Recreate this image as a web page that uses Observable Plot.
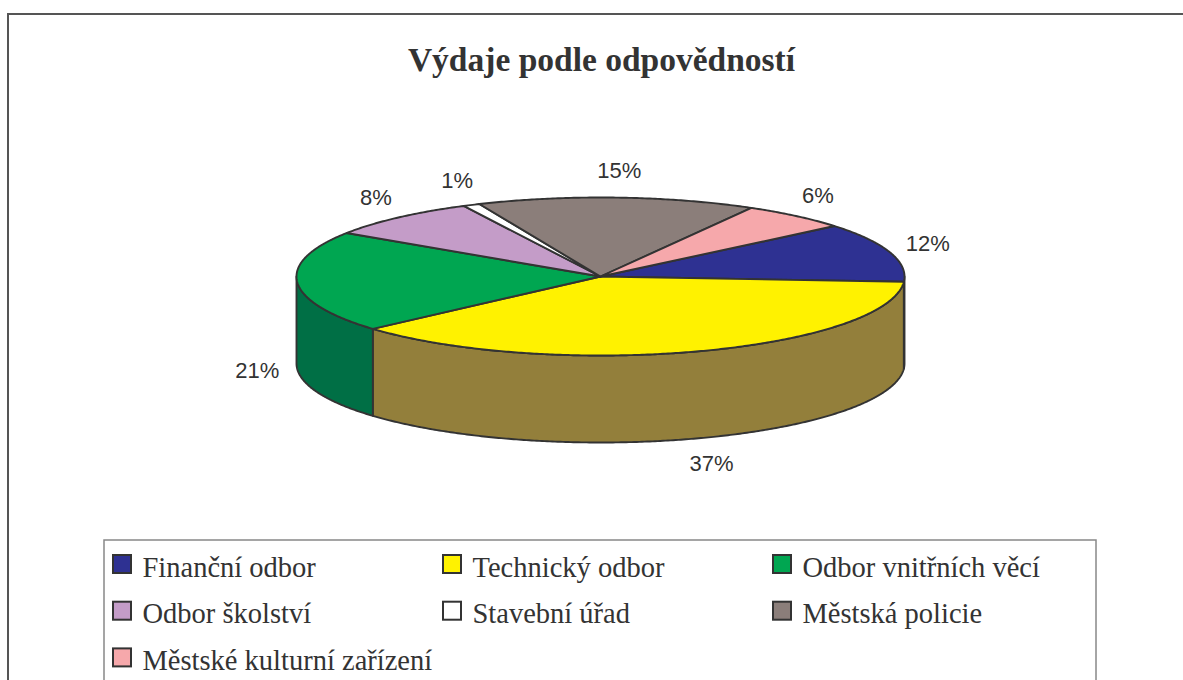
<!DOCTYPE html>
<html>
<head>
<meta charset="utf-8">
<script src="https://cdn.jsdelivr.net/npm/d3@7"></script>
<script src="https://cdn.jsdelivr.net/npm/@observablehq/plot@0.6"></script>
<style>
  html, body { margin: 0; padding: 0; background: #fff; overflow: hidden; }
  #chart svg { display: block; }
</style>
</head>
<body>
<div id="chart"></div>
<script>
// ---- data ----
const title = "Výdaje podle odpovědností";
const categories = ["Finanční odbor", "Technický odbor", "Odbor vnitřních věcí", "Odbor školství", "Stavební úřad", "Městská policie", "Městské kulturní zařízení"];
// shares (percent)
const shares = [12.1, 37.4, 20.8, 8.3, 0.9, 14.8, 5.7];
// labels as printed on the chart
const percentLabels = ["12%", "37%", "21%", "8%", "1%", "15%", "6%"];

// ---- styles ----
const topColors = ["#2E3192", "#FFF200", "#00A651", "#C49CC8", "#FFFFFF", "#8B7E7A", "#F6A8AB"];
const sideColors = ["#1E2060", "#937F3B", "#006F45", "#806485", "#A0A0A0", "#5A504D", "#A06E70"];

// ---- layout ----
const W = 1183, H = 680;
const cx = 600, cy = 276, rx = 304, ry = 79, depth = 87, startAngle = 50.3;
const labelGap = 18, labelFont = 22;

const total = d3.sum(shares);
let acc = startAngle;
const slices = shares.map((v, i) => {
  const a0 = acc, a1 = acc + v / total * 360;
  acc = a1;
  return {i, name: categories[i], label: percentLabels[i], a0, a1, mid: (a0 + a1) / 2};
});

const rad = (a) => a * Math.PI / 180;
const ex = (a, r = rx) => cx + r * Math.sin(rad(a));
const ey = (a, r = ry, off = 0) => cy - r * Math.cos(rad(a)) + off;
function arc(a0, a1, off) {
  const n = Math.max(2, Math.ceil(Math.abs(a1 - a0) / 0.5));
  return d3.range(n + 1).map(k => {
    const a = a0 + (a1 - a0) * k / n;
    return [ex(a), ey(a, ry, off)];
  });
}

// top faces
const topRows = [];
slices.forEach(s => {
  const pts = [[cx, cy], ...arc(s.a0, s.a1, 0)];
  pts.forEach(([x, y]) => topRows.push({id: s.i, x, y, fill: topColors[s.i]}));
});

// side (front) faces: visible angular range 90..270
const sideRows = [];
slices.forEach(s => {
  const s0 = Math.max(s.a0, 90), s1 = Math.min(s.a1, 270);
  if (s1 > s0) {
    const pts = [...arc(s0, s1, 0), ...arc(s1, s0, depth)];
    pts.forEach(([x, y]) => sideRows.push({id: s.i, x, y, fill: sideColors[s.i]}));
  }
});

// percentage labels, placed outside the rim at each slice's mid-angle
const labelRows = slices.map(s => {
  const c = Math.cos(rad(s.mid)), sn = Math.sin(rad(s.mid));
  const hw = (s.label.length - 1) * 0.556 * labelFont / 2 + 0.889 * labelFont / 2;
  const hh = 0.4 * labelFont;
  return {
    text: s.label,
    x: cx + (rx + labelGap + hw) * sn,
    y: cy - (ry + labelGap + hh) * c + (c < 0 ? depth : 0)
  };
});

// legend
const legCols = 3, legX0 = 113, legColW = 330, legY0 = 555, legRowH = 46.7, sw = 18;
const legendRows = categories.map((name, i) => {
  const col = i % legCols, row = Math.floor(i / legCols);
  const x = legX0 + col * legColW, y = legY0 + row * legRowH;
  return {name, fill: topColors[i], x1: x, x2: x + sw, y1: y, y2: y + sw, tx: x + sw + 11, ty: y + sw / 2 + 3};
});

const chart = Plot.plot({
  width: W,
  height: H,
  margin: 0,
  x: {domain: [0, W], range: [0, W], axis: null},
  y: {domain: [0, H], range: [0, H], axis: null},
  color: {type: "identity"},
  style: {background: "white"},
  marks: [
    // outer chart frame
    Plot.rect([0], {x1: () => 8, x2: () => W + 20, y1: () => 14, y2: () => H + 20, fill: "none", stroke: "#555", strokeWidth: 2}),
    // title
    Plot.text([title], {x: () => 601, y: () => 60, text: d => d, fontFamily: "Liberation Serif, Times New Roman, serif", fontWeight: "bold", fontSize: 33.5, fill: "#333"}),
    // pie sides
    Plot.line(sideRows, {x: "x", y: "y", z: "id", fill: "fill", stroke: "#333", strokeWidth: 1.9, strokeLinejoin: "round", curve: "linear-closed"}),
    // pie tops
    Plot.line(topRows, {x: "x", y: "y", z: "id", fill: "fill", stroke: "#333", strokeWidth: 1.9, strokeLinejoin: "round", curve: "linear-closed"}),
    // labels
    Plot.text(labelRows, {x: "x", y: "y", text: "text", fontFamily: "Liberation Sans, Arial, sans-serif", fontSize: labelFont, fill: "#333"}),
    // legend box
    Plot.rect([0], {x1: () => 104, x2: () => 1096, y1: () => 540, y2: () => H + 20, fill: "none", stroke: "#888", strokeWidth: 1.5}),
    // legend swatches & labels
    Plot.rect(legendRows, {x1: "x1", x2: "x2", y1: "y1", y2: "y2", fill: "fill", stroke: "#333", strokeWidth: 2}),
    Plot.text(legendRows, {x: "tx", y: "ty", text: "name", textAnchor: "start", fontFamily: "Liberation Serif, Times New Roman, serif", fontSize: 28.5, fill: "#333"})
  ]
});
document.getElementById("chart").appendChild(chart);
</script>
</body>
</html>
